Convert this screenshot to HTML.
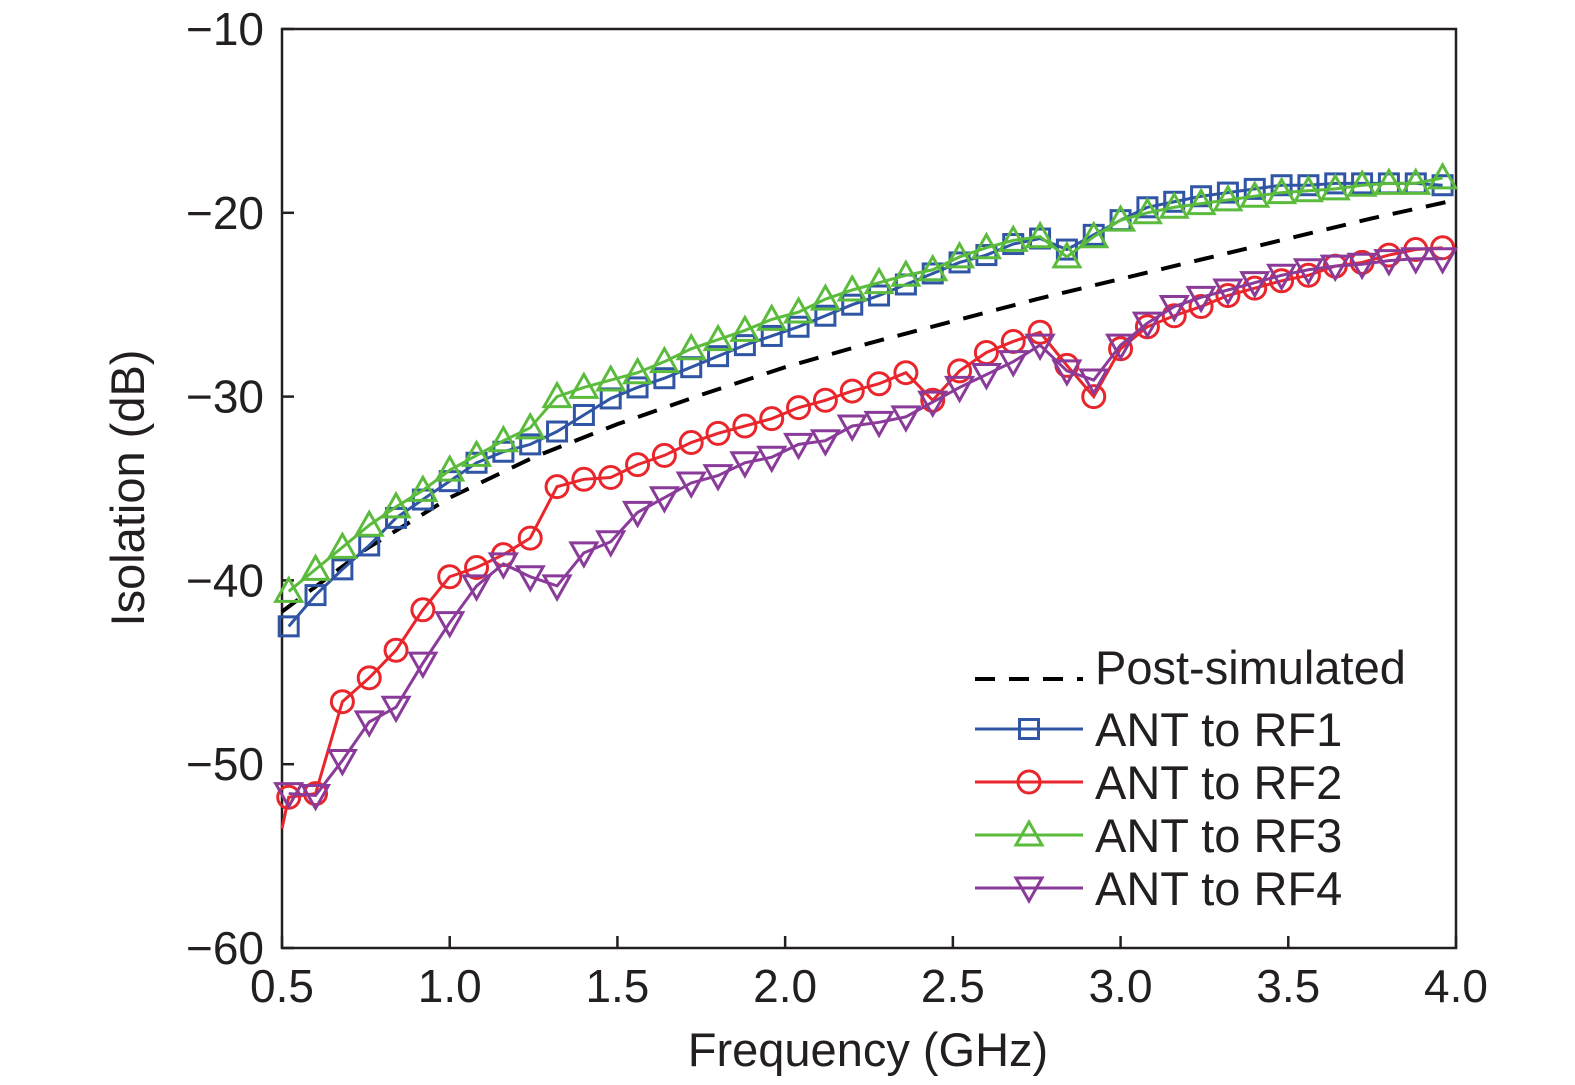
<!DOCTYPE html>
<html><head><meta charset="utf-8"><style>
html,body{margin:0;padding:0;background:#fff;}
svg{display:block;font-family:"Liberation Sans",sans-serif;}
</style></head><body>
<svg id="chart" width="1575" height="1085" viewBox="0 0 1575 1085" xmlns="http://www.w3.org/2000/svg"></svg>
<script>
const freqStart = 0.52, freqStep = 0.08;
const xTicks = [0.5,1.0,1.5,2.0,2.5,3.0,3.5,4.0];
const xTickLabels = ["0.5","1.0","1.5","2.0","2.5","3.0","3.5","4.0"];
const yTicks = [-10,-20,-30,-40,-50,-60];
const yTickLabels = ["\u221210","\u221220","\u221230","\u221240","\u221250","\u221260"];
const simFreq = [0.5,0.75,1.0,1.25,1.5,1.75,2.0,2.25,2.5,2.75,3.0,3.25,3.5,3.75,4.0];
const simVals = [-41.7,-38.3,-35.5,-33.3,-31.5,-29.9,-28.4,-27.1,-25.9,-24.7,-23.6,-22.5,-21.4,-20.3,-19.3];
const rf1 = [-42.5,-40.8,-39.4,-38.1,-36.6,-35.6,-34.6,-33.6,-33.0,-32.6,-31.9,-31.0,-30.1,-29.5,-29.0,-28.4,-27.8,-27.2,-26.7,-26.2,-25.6,-25.0,-24.5,-23.9,-23.3,-22.7,-22.3,-21.7,-21.4,-22.0,-21.2,-20.4,-19.7,-19.4,-19.1,-18.9,-18.7,-18.5,-18.5,-18.4,-18.4,-18.4,-18.4,-18.5];
const rf2 = [-51.8,-51.6,-46.6,-45.3,-43.8,-41.6,-39.8,-39.3,-38.6,-37.7,-34.9,-34.5,-34.4,-33.7,-33.2,-32.5,-32.0,-31.6,-31.2,-30.6,-30.2,-29.7,-29.3,-28.7,-30.2,-28.6,-27.6,-27.0,-26.5,-28.3,-30.0,-27.4,-26.2,-25.6,-25.1,-24.5,-24.1,-23.7,-23.4,-22.9,-22.7,-22.3,-22.0,-21.9];
const rf2Start = -53.5;
const rf3 = [-40.6,-39.4,-38.2,-37.0,-36.0,-35.1,-34.0,-33.2,-32.4,-31.7,-30.0,-29.5,-29.1,-28.7,-28.1,-27.4,-26.9,-26.4,-25.8,-25.4,-24.7,-24.2,-23.8,-23.4,-23.1,-22.4,-21.9,-21.5,-21.3,-22.4,-21.3,-20.4,-20.0,-19.7,-19.5,-19.3,-19.1,-18.9,-18.8,-18.7,-18.5,-18.4,-18.4,-18.1];
const rf4 = [-51.6,-51.7,-49.8,-47.7,-46.9,-44.5,-42.3,-40.3,-39.1,-39.8,-40.3,-38.5,-37.9,-36.3,-35.5,-34.7,-34.3,-33.6,-33.3,-32.6,-32.4,-31.6,-31.4,-31.1,-30.3,-29.5,-28.8,-28.1,-27.2,-28.6,-29.1,-27.2,-26.0,-25.1,-24.6,-24.2,-23.8,-23.4,-23.1,-22.9,-22.8,-22.6,-22.5,-22.5];

const NS="http://www.w3.org/2000/svg";
const svg=document.getElementById('chart');
const X0=282,X1=1456,Y0=29,Y1=948;
function xs(f){return X0+(f-0.5)/3.5*(X1-X0);}
function ys(v){return Y0+(-10-v)/50*(Y1-Y0);}
function mk(tag,attrs,parent){const e=document.createElementNS(NS,tag);for(const k in attrs)e.setAttribute(k,attrs[k]);(parent||svg).appendChild(e);return e;}

const box=mk('rect',{x:X0,y:Y0,width:X1-X0,height:Y1-Y0,fill:'none',stroke:'#231f20','stroke-width':2.5});



xTicks.forEach((t,i)=>{
  const x=xs(t);
  const tk=mk('line',{x1:x,y1:Y1,x2:x,y2:Y1-12,stroke:'#231f20','stroke-width':2.5});
  
  
  const tx=mk('text',{x:x,y:1002,'text-anchor':'middle','font-size':46,fill:'#231f20'});
  tx.textContent=xTickLabels[i];
  
  
});
yTicks.forEach((t,i)=>{
  const y=ys(t);
  const tk=mk('line',{x1:X0,y1:y,x2:X0+12,y2:y,stroke:'#231f20','stroke-width':2.5});
  
  
  const tx=mk('text',{x:264,y:y+16,'text-anchor':'end','font-size':46,fill:'#231f20'});
  tx.textContent=yTickLabels[i];
  
  
});
const xt=mk('text',{x:868,y:1066,'text-anchor':'middle','font-size':47,fill:'#231f20'});
xt.textContent='Frequency (GHz)';


const yt=mk('text',{x:0,y:0,'text-anchor':'middle','font-size':47,fill:'#231f20',transform:'translate(144,488) rotate(-90)'});
yt.textContent='Isolation (dB)';



const simPts=simFreq.map((f,i)=>xs(f)+','+ys(simVals[i])).join(' ');
const sim=mk('polyline',{points:simPts,fill:'none',stroke:'#000','stroke-width':4,'stroke-dasharray':'20,14'});



function marker(type,cx,cy,color,g){
  let e;
  if(type==='sq') e=mk('rect',{x:cx-9.5,y:cy-9.5,width:19,height:19,fill:'none',stroke:color,'stroke-width':3},g);
  else if(type==='ci') e=mk('circle',{cx:cx,cy:cy,r:11,fill:'none',stroke:color,'stroke-width':3},g);
  else if(type==='up') e=mk('polygon',{points:`${cx},${cy-13} ${cx-13},${cy+10} ${cx+13},${cy+10}`,fill:'none',stroke:color,'stroke-width':3},g);
  else e=mk('polygon',{points:`${cx},${cy+13} ${cx-13},${cy-10} ${cx+13},${cy-10}`,fill:'none',stroke:color,'stroke-width':3},g);
  return e;
}
const series=[
  {name:'rf1',vals:rf1,color:'#2f55a4',m:'sq'},
  {name:'rf2',vals:rf2,color:'#e8262c',m:'ci'},
  {name:'rf3',vals:rf3,color:'#5bbb3d',m:'up'},
  {name:'rf4',vals:rf4,color:'#8a3b9a',m:'dn'}
];
const order=[series[1],series[3],series[0],series[2]];
order.forEach(s=>{
  const g=mk('g',{});
  
  
  let pts=s.vals.map((v,i)=>xs(freqStart+i*freqStep)+','+ys(v));
  if(s.name==='rf2') pts.unshift(xs(0.5)+','+ys(rf2Start));
  const ln=mk('polyline',{points:pts.join(' '),fill:'none',stroke:s.color,'stroke-width':3},g);
  
  
  s.vals.forEach((v,i)=>{
    const e=marker(s.m,xs(freqStart+i*freqStep),ys(v),s.color,g);
    
    
  });
});

const legendNames=['Post-simulated','ANT to RF1','ANT to RF2','ANT to RF3','ANT to RF4'];
const legendY=[667,729,782,835,888];
const lg=mk('g',{});


legendNames.forEach((n,i)=>{
  const y=legendY[i];
  const eg=mk('g',{},lg);
  
  
  if(i===0){
    mk('line',{x1:975,y1:y+12,x2:1083,y2:y+12,stroke:'#000','stroke-width':4,'stroke-dasharray':'20,14'},eg);
  } else {
    const s=series[i-1];
    mk('line',{x1:975,y1:y,x2:1083,y2:y,stroke:s.color,'stroke-width':3},eg);
    marker(s.m,1029,y,s.color,eg);
  }
  const t=mk('text',{x:1095,y:y+17,'font-size':47,fill:'#231f20'},eg);
  t.textContent=n;
});
</script>
</body></html>
